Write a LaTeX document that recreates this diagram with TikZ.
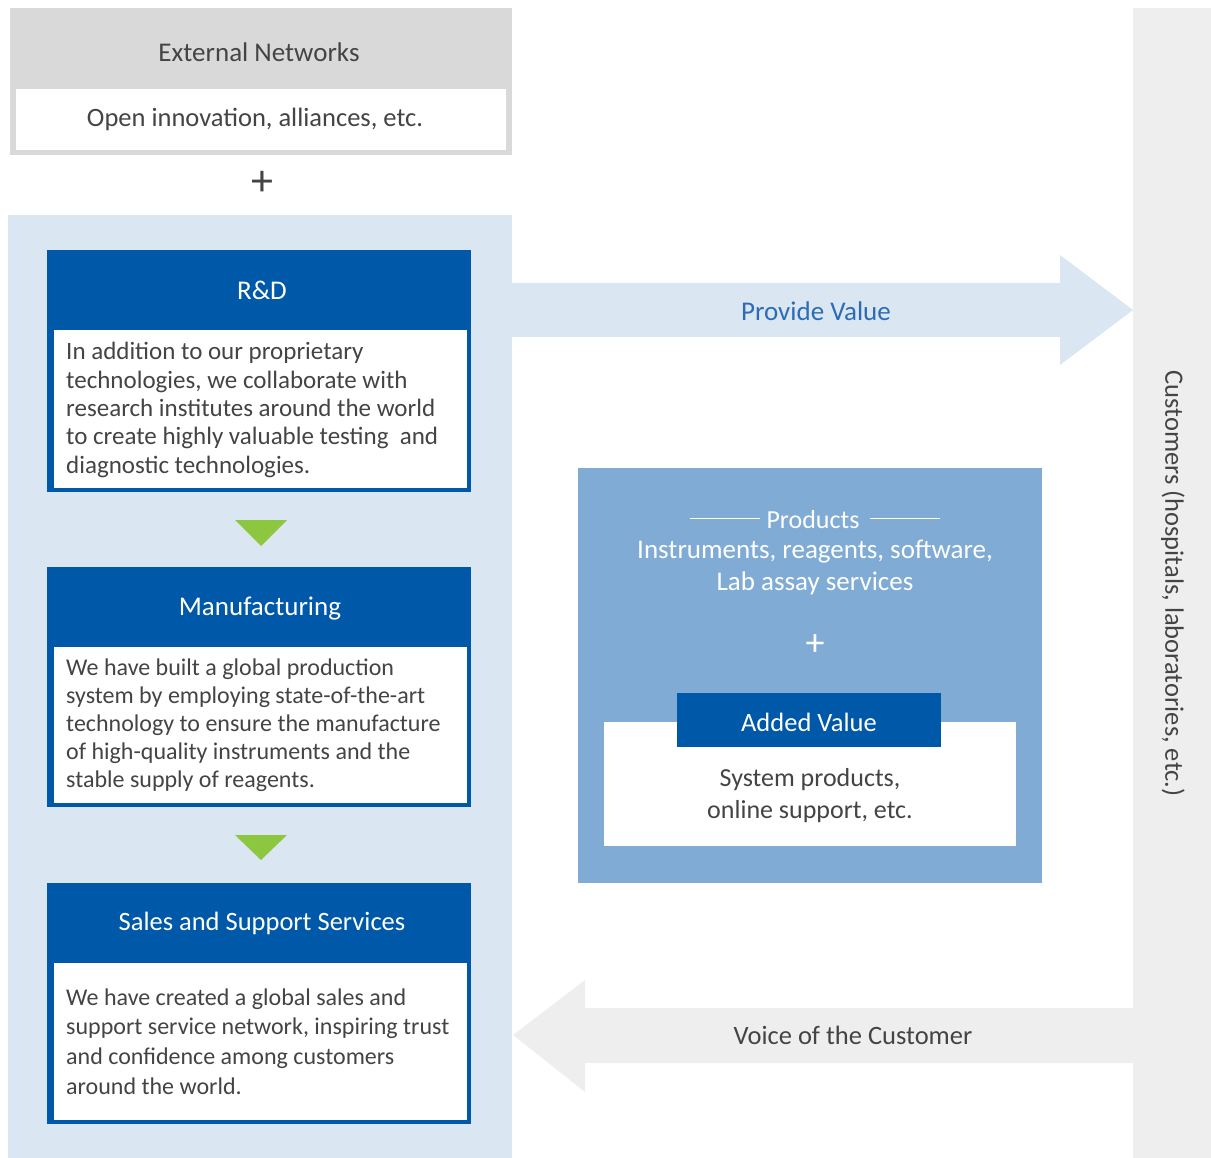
\documentclass[tikz,border=0pt]{standalone}
\usepackage{fontspec}
\setmainfont{Carlito}
\definecolor{extgray}{HTML}{D9D9D9}
\definecolor{custgray}{HTML}{EEEEEE}
\definecolor{panelblue}{HTML}{DAE6F1}
\definecolor{darkblue}{HTML}{0058A9}
\definecolor{prodblue}{HTML}{80ABD5}
\definecolor{arrowgreen}{HTML}{8DC63F}
\definecolor{txtgray}{HTML}{444444}
\definecolor{valblue}{HTML}{2B6CB5}
\tikzset{
  blk/.style={rectangle, draw=none, inner sep=0pt, outer sep=0pt},
  hdr/.style={text=white, inner sep=0pt, font=\fontsize{27}{30}\selectfont},
  body/.style={text=txtgray, align=left, inner sep=0pt, font=\fontsize{24}{28.6}\selectfont, anchor=west},
  lbl/.style={text=txtgray, font=\fontsize{26.5}{30}\selectfont, inner sep=0pt},
}
\begin{document}
\begin{tikzpicture}[x=1pt,y=-1pt]
\useasboundingbox (0,0) rectangle (1211,1158);
% external networks
\node[blk, fill=extgray, minimum width=502pt, minimum height=147pt] (ext) at (261,81.5) {};
\node[blk, fill=white, minimum width=490pt, minimum height=61pt] (extin) at (261,119.5) {};
\node[lbl, font=\fontsize{27}{30}\selectfont] (exttitle) at (259,52) {External Networks};
\node[lbl, font=\fontsize{26.5}{30}\selectfont] (exttext) at (255,119) {Open innovation, alliances, etc.};
\node[text=txtgray, inner sep=0pt, font=\fontsize{44}{44}\selectfont] (plus1) at (262,183) {+};
% left panel
\node[blk, fill=panelblue, minimum width=504pt, minimum height=943pt] (panel) at (260,686.5) {};
% R&D
\node[blk, fill=darkblue, minimum width=424pt, minimum height=242pt] (rd) at (259,371) {};
\node[blk, fill=white, minimum width=413pt, minimum height=158pt] (rdin) at (260.5,409) {};
\node[hdr] (rdtitle) at (262,290) {R\&D};
\node[body, font=\fontsize{25}{28.4}\selectfont] (rdtext) at (66,410) {In addition to our proprietary\\technologies, we collaborate with\\research institutes around the world\\to create highly valuable testing\ \ and\\diagnostic technologies.};
\fill[arrowgreen] (235,520) -- (287,520) -- (261,546) -- cycle;
% Manufacturing
\node[blk, fill=darkblue, minimum width=424pt, minimum height=240pt] (mf) at (259,687) {};
\node[blk, fill=white, minimum width=413pt, minimum height=156pt] (mfin) at (260.5,725) {};
\node[hdr] (mftitle) at (260,609) {Manufacturing};
\node[body, font=\fontsize{24}{28}\selectfont] (mftext) at (66,725) {We have built a global production\\system by employing state-of-the-art\\technology to ensure the manufacture\\of high-quality instruments and the\\stable supply of reagents.};
\fill[arrowgreen] (235,835) -- (287,835) -- (261,860) -- cycle;
% Sales
\node[blk, fill=darkblue, minimum width=424pt, minimum height=241pt] (ss) at (259,1003.5) {};
\node[blk, fill=white, minimum width=413pt, minimum height=157pt] (ssin) at (260.5,1041.5) {};
\node[hdr, font=\fontsize{26.5}{30}\selectfont] (sstitle) at (262,923) {Sales and Support Services};
\node[body, font=\fontsize{24}{29.7}\selectfont] (sstext) at (66,1041.5) {We have created a global sales and\\support service network, inspiring trust\\and confidence among customers\\around the world.};
% customers
\node[blk, fill=custgray, minimum width=78pt, minimum height=1150pt] (cust) at (1172,583) {};
\node[lbl, rotate=-90] (custtext) at (1173,583.5) {Customers (hospitals, laboratories, etc.)};
% provide value arrow
\fill[panelblue] (512,283) -- (1060,283) -- (1060,255) -- (1133,310) -- (1060,365) -- (1060,337) -- (512,337) -- cycle;
\node[text=valblue, inner sep=0pt, font=\fontsize{27}{30}\selectfont] (provide) at (816,311) {Provide Value};
% voice arrow
\fill[custgray] (1133,1008) -- (585,1008) -- (585,980) -- (513,1035) -- (585,1092) -- (585,1063) -- (1133,1063) -- cycle;
\node[lbl] (voice) at (853,1035) {Voice of the Customer};
% products
\node[blk, fill=prodblue, minimum width=464pt, minimum height=415pt] (prod) at (810,675.5) {};
\node[text=white, inner sep=0pt, font=\fontsize{26}{30}\selectfont] (prodtitle) at (813,520) {Products};
\draw[white, line width=0.8pt] (690,518) -- (760,518);
\draw[white, line width=0.8pt] (870,518) -- (940,518);
\node[text=white, inner sep=0pt, align=center, font=\fontsize{27}{31.5}\selectfont] (prodtext) at (815,567.5) {Instruments, reagents, software,\\Lab assay services};
\node[text=white, inner sep=0pt, font=\fontsize{38}{38}\selectfont] (plus2) at (815,645) {+};
\node[blk, fill=white, minimum width=412pt, minimum height=124pt] (addin) at (810,784) {};
\node[blk, fill=darkblue, minimum width=264pt, minimum height=54pt] (addhdr) at (809,720) {};
\node[hdr, font=\fontsize{26.5}{30}\selectfont] (addtitle) at (809,722) {Added Value};
\node[lbl, align=center, font=\fontsize{26}{32}\selectfont] (addtext) at (810,796) {System products,\\online support, etc.};
\end{tikzpicture}
\end{document}
